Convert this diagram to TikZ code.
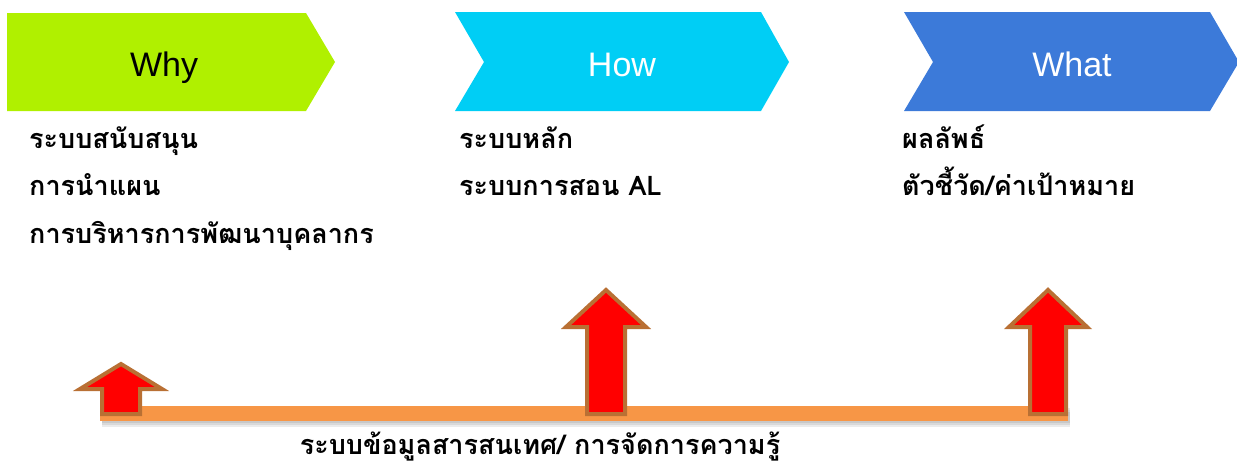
\documentclass[tikz,border=0pt]{standalone}
\usepackage{fontspec}
\setmainfont{Liberation Sans}
\newfontfamily\thaifont[Script=Thai]{Loma}
\definecolor{whygreen}{RGB}{176,240,0}
\definecolor{howcyan}{RGB}{0,206,245}
\definecolor{whatblue}{RGB}{60,122,217}
\definecolor{barorange}{RGB}{247,150,70}
\definecolor{arrowbrown}{RGB}{185,112,52}
\tikzset{
  titletext/.style={font=\fontsize{34}{40}\selectfont, anchor=base, inner sep=0pt},
  thaitext/.style={font=\thaifont\bfseries\fontsize{27}{31}\selectfont, anchor=base west, inner sep=0pt},
  uparrow/.style={fill=red, draw=arrowbrown, line width=4pt, line join=miter},
}
\begin{document}
\begin{tikzpicture}[x=1pt,y=-1pt]
  \useasboundingbox (0,0) rectangle (1237,466);
  % chevrons
  \fill[whygreen] (7,13) -- (306,13) -- (335,62) -- (306,111) -- (7,111) -- cycle;
  \fill[howcyan] (455,12) -- (761,12) -- (789,62) -- (761,111) -- (455,111) -- (484,62) -- cycle;
  \fill[whatblue] (904,12) -- (1210,12) -- (1239,62) -- (1210,111) -- (904,111) -- (933,62) -- cycle;
  \node[titletext] (why) at (164,76) {Why};
  \node[titletext, text=white] (how) at (622,76) {How};
  \node[titletext, text=white] (what) at (1072,76) {What};
  % texts under the chevrons
  \node[thaitext] (support) at (29,148) {ระบบสนับสนุน};
  \node[thaitext] (lead) at (29,195) {การนำแผน};
  \node[thaitext] (staff) at (29,243) {การบริหารการพัฒนาบุคลากร};
  \node[thaitext] (core) at (459,148) {ระบบหลัก};
  \node[thaitext] (teach) at (459,195) {ระบบการสอน AL};
  \node[thaitext] (result) at (902,148) {ผลลัพธ์};
  \node[thaitext] (target) at (902,195) {ตัวชี้วัด/ค่าเป้าหมาย};
  % base bar and its shadow
  \foreach \d in {2,4,6}
    \fill[black, opacity=0.08] (102,406+\d) rectangle (1070,421+\d);
  \fill[barorange] (100,406) rectangle (1068,421);
  \node[thaitext, anchor=base] (info) at (540,454) {ระบบข้อมูลสารสนเทศ/ การจัดการความรู้};
  % arrows
  \draw[uparrow] (102,414) -- (102,389) -- (80,389) -- (121,364) -- (162,389) -- (140,389) -- (140,414) -- cycle;
  \draw[uparrow] (587,414) -- (587,327) -- (566,327) -- (606,290) -- (646,327) -- (625,327) -- (625,414) -- cycle;
  \draw[uparrow] (1030,414) -- (1030,327) -- (1009,327) -- (1048,290) -- (1087,327) -- (1066,327) -- (1066,414) -- cycle;
\end{tikzpicture}
\end{document}
